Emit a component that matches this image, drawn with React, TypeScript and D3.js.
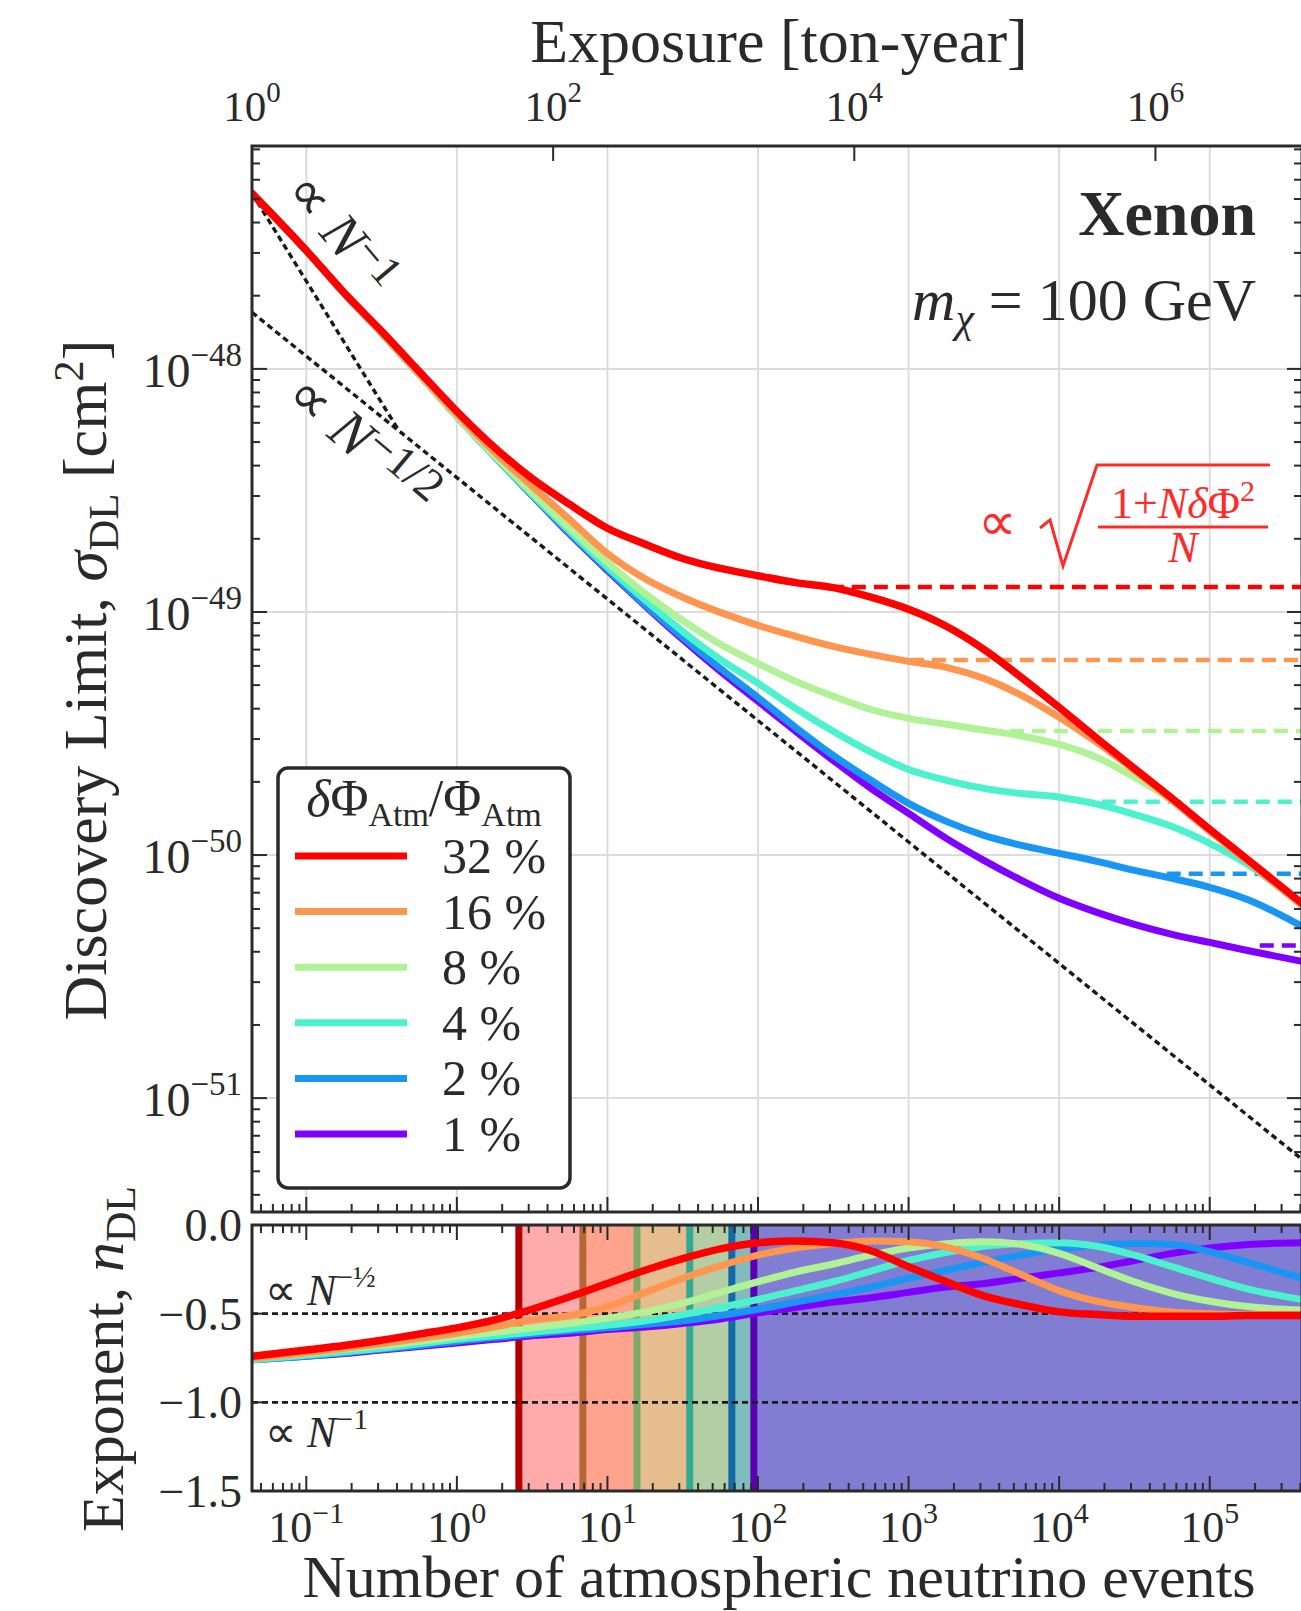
import React from "react";
import * as d3 from "d3";

// ---------------- data ----------------
// number of atmospheric neutrino events (shared grid for all series)
const nEvents = [0.0436, 0.1, 0.178, 0.316, 0.562, 1, 1.78, 3.16, 5.62, 10, 17.8, 31.6, 56.2, 100, 178, 316, 562, 1000, 1780, 3160, 5620, 1e4, 1.78e4, 3.16e4, 5.62e4, 1e5, 1.78e5, 4.1e5];

const seriesLabels = ["32 %", "16 %", "8 %", "4 %", "2 %", "1 %"];
const seriesColors = ["#ff0000", "#ff964f", "#b2f296", "#4cf2ce", "#1996f3", "#8000ff"];

// discovery limit sigma_DL in units of 1e-50 cm^2
const sigma32 = [527, 307, 206, 143, 97.7, 66.9, 47.5, 35.4, 27.7, 22.1, 19.0, 16.6, 15.1, 14.1, 13.2, 12.6, 11.5, 10.25, 8.73, 7.02, 5.38, 4.05, 3.02, 2.27, 1.71, 1.276, 0.96, 0.633];
const sigma16 = [527, 307, 206, 141.3, 95.8, 65.0, 45.4, 32.9, 24.0, 17.4, 13.7, 11.5, 9.96, 8.81, 7.94, 7.22, 6.69, 6.26, 5.92, 5.33, 4.54, 3.69, 2.91, 2.23, 1.679, 1.252, 0.942, 0.621];
const sigma8 = [527, 307, 204.4, 140.0, 94.9, 63.8, 44.1, 31.0, 22.1, 16.0, 11.9, 9.23, 7.36, 6.14, 5.18, 4.5, 3.97, 3.65, 3.45, 3.27, 3.09, 2.85, 2.52, 2.09, 1.679, 1.264, 0.951, 0.627];
const sigma4 = [527, 307, 204.4, 140.0, 94.9, 63.8, 43.7, 30.5, 21.5, 15.3, 11.2, 8.32, 6.38, 5.09, 4.01, 3.23, 2.65, 2.25, 2.03, 1.88, 1.79, 1.73, 1.62, 1.47, 1.31, 1.117, 0.916, 0.621];
const sigma2 = [527, 307, 204.4, 140.0, 94.9, 63.8, 43.7, 30.2, 21.1, 15.0, 10.7, 7.86, 5.86, 4.45, 3.35, 2.57, 2.03, 1.632, 1.376, 1.205, 1.096, 1.016, 0.942, 0.865, 0.802, 0.737, 0.657, 0.509];
const sigma1 = [527, 307, 204.4, 140.0, 94.9, 63.8, 43.7, 30.2, 20.9, 14.8, 10.6, 7.71, 5.7, 4.29, 3.23, 2.45, 1.88, 1.484, 1.171, 0.951, 0.787, 0.664, 0.581, 0.519, 0.472, 0.437, 0.405, 0.365];

// exponent n_DL = dln(sigma)/dln(N)
const exp32 = [-0.74, -0.705, -0.68, -0.65, -0.615, -0.58, -0.535, -0.475, -0.405, -0.33, -0.255, -0.19, -0.135, -0.1, -0.09, -0.1, -0.145, -0.235, -0.32, -0.4, -0.45, -0.49, -0.505, -0.515, -0.515, -0.515, -0.51, -0.51];
const exp16 = [-0.75, -0.72, -0.695, -0.67, -0.64, -0.61, -0.575, -0.535, -0.51, -0.46, -0.38, -0.3, -0.23, -0.17, -0.13, -0.105, -0.09, -0.095, -0.125, -0.19, -0.28, -0.37, -0.43, -0.465, -0.49, -0.5, -0.505, -0.505];
const exp8 = [-0.75, -0.725, -0.7, -0.68, -0.655, -0.63, -0.605, -0.58, -0.555, -0.525, -0.49, -0.44, -0.38, -0.32, -0.265, -0.22, -0.17, -0.13, -0.105, -0.095, -0.11, -0.16, -0.24, -0.32, -0.385, -0.43, -0.46, -0.48];
const exp4 = [-0.76, -0.735, -0.715, -0.695, -0.67, -0.645, -0.625, -0.605, -0.585, -0.565, -0.54, -0.505, -0.465, -0.42, -0.37, -0.32, -0.26, -0.2, -0.155, -0.12, -0.105, -0.1, -0.12, -0.17, -0.235, -0.3, -0.36, -0.42];
const exp2 = [-0.76, -0.74, -0.72, -0.7, -0.68, -0.655, -0.635, -0.615, -0.595, -0.58, -0.56, -0.54, -0.51, -0.475, -0.435, -0.395, -0.35, -0.3, -0.255, -0.21, -0.17, -0.135, -0.115, -0.105, -0.11, -0.15, -0.21, -0.3];
const exp1 = [-0.76, -0.74, -0.725, -0.705, -0.685, -0.665, -0.645, -0.625, -0.61, -0.59, -0.575, -0.555, -0.53, -0.495, -0.465, -0.435, -0.41, -0.38, -0.35, -0.33, -0.3, -0.27, -0.24, -0.2, -0.16, -0.13, -0.11, -0.1];

// asymptotic floors (dashed) : sigma (1e-50 cm^2) and N where they start
const floorSigma = [12.68, 6.35, 3.24, 1.655, 0.837, 0.424];
const floorStartN = [300, 1020, 3360, 13700, 51800, 215000];
// N where the exponent crosses -1/2 (start of shaded bands)
const crossN = [2.58, 6.87, 15.7, 35.2, 67, 93.8];

// reference power laws
const refHalfN = [0.0436, 4.1e5];
const refHalfSigma = [170.8, 0.056];
const refOneN = [0.0436, 0.41];
const refOneSigma = [527, 56];

// ticks
const mainYTicks = [0.1, 1, 10, 100];
const mainYTickExp = ["−51", "−50", "−49", "−48"];
const nTicks = [0.1, 1, 10, 100, 1e3, 1e4, 1e5];
const nTickExp = ["−1", "0", "1", "2", "3", "4", "5"];
const exposureTicks = [1, 100, 1e4, 1e6];
const exposureTickExp = ["0", "2", "4", "6"];
const lowYTicks = [0, -0.5, -1.0, -1.5];
const lowYTickLabels = ["0.0", "−0.5", "−1.0", "−1.5"];

// ---------------- layout ----------------
const W = 1301, H = 1611;
const X0 = 252, X1 = 1302;
const MT = 146, MB = 1212;
const LT = 1225, LB = 1491;
const N_MIN = 0.0436, N_MAX = 4.1e5;
const FONT = "'Liberation Serif','Times New Roman',serif";
const INK = "#2a2a2a";

function logTicks(min: number, max: number) {
  const out: { v: number; major: boolean }[] = [];
  for (let e = Math.floor(Math.log10(min)); e <= Math.ceil(Math.log10(max)); e++) {
    for (let k = 1; k <= 9; k++) {
      const v = k * Math.pow(10, e);
      if (v >= min * 0.999 && v <= max * 1.001) out.push({ v, major: k === 1 });
    }
  }
  return out;
}

export default function App() {
  const x = d3.scaleLog().domain([N_MIN, N_MAX]).range([X0, X1]);
  const xExp = d3.scaleLog().domain([1, N_MAX / N_MIN]).range([X0, X1]);
  const yMain = d3.scaleLog().domain([0.034, 826]).range([MB, MT]);
  const yLow = d3.scaleLinear().domain([-1.5, 0]).range([LB, LT]);

  const mainLine = d3
    .line<[number, number]>()
    .x((d) => x(d[0]))
    .y((d) => yMain(d[1]))
    .curve(d3.curveMonotoneX);
  const lowLine = d3
    .line<[number, number]>()
    .x((d) => x(d[0]))
    .y((d) => yLow(d[1]))
    .curve(d3.curveMonotoneX);

  const sigmaSeries = [sigma32, sigma16, sigma8, sigma4, sigma2, sigma1];
  const expSeries = [exp32, exp16, exp8, exp4, exp2, exp1];
  const drawOrder = [5, 4, 3, 2, 1, 0];

  const nT = logTicks(N_MIN, N_MAX);
  const sT = logTicks(0.034, 826);

  const darker = (c: string) => d3.interpolateRgb(c, "#000")(0.3);

  return (
    <svg
      width={W}
      height={H}
      style={{ position: "absolute", left: 0, top: 0, background: "#fff" }}
      fontFamily={FONT}
    >
      <defs>
        <clipPath id="clipMain">
          <rect x={X0} y={MT} width={X1 - X0} height={MB - MT} />
        </clipPath>
        <clipPath id="clipLow">
          <rect x={X0} y={LT} width={X1 - X0} height={LB - LT} />
        </clipPath>
      </defs>
      <rect width={W} height={H} fill="#fff" />

      {/* ---------- main panel ---------- */}
      <g clipPath="url(#clipMain)">
        {nTicks.map((v) => (
          <line key={"gx" + v} x1={x(v)} x2={x(v)} y1={MT} y2={MB} stroke="#dcdcdc" strokeWidth={2} />
        ))}
        {mainYTicks.map((v) => (
          <line key={"gy" + v} x1={X0} x2={X1} y1={yMain(v)} y2={yMain(v)} stroke="#dcdcdc" strokeWidth={2} />
        ))}
        <path
          d={mainLine(refHalfN.map((n, i) => [n, refHalfSigma[i]]) as [number, number][]) || ""}
          fill="none"
          stroke="#1a1a1a"
          strokeWidth={3.4}
          strokeDasharray="6 4"
        />
        <path
          d={mainLine(refOneN.map((n, i) => [n, refOneSigma[i]]) as [number, number][]) || ""}
          fill="none"
          stroke="#1a1a1a"
          strokeWidth={3.4}
          strokeDasharray="6 4"
        />
        {drawOrder.map((i) => (
          <line
            key={"fl" + i}
            x1={x(floorStartN[i])}
            x2={X1}
            y1={yMain(floorSigma[i])}
            y2={yMain(floorSigma[i])}
            stroke={seriesColors[i]}
            strokeWidth={4.5}
            strokeDasharray="14 8"
          />
        ))}
        {drawOrder.map((i) => (
          <path
            key={"c" + i}
            d={mainLine(nEvents.map((n, j) => [n, sigmaSeries[i][j]]) as [number, number][]) || ""}
            fill="none"
            stroke={seriesColors[i]}
            strokeWidth={i === 0 ? 7.5 : 7}
            strokeLinecap="round"
          />
        ))}
      </g>

      {/* main ticks */}
      {nT.map((t, k) => (
        <line key={"mbt" + k} x1={x(t.v)} x2={x(t.v)} y1={MB} y2={MB - (t.major ? 15 : 8)} stroke={INK} strokeWidth={2} />
      ))}
      {sT.map((t, k) => (
        <g key={"mst" + k}>
          <line x1={X0} x2={X0 + (t.major ? 15 : 8)} y1={yMain(t.v)} y2={yMain(t.v)} stroke={INK} strokeWidth={2} />
          <line x1={X1} x2={X1 - (t.major ? 15 : 8)} y1={yMain(t.v)} y2={yMain(t.v)} stroke={INK} strokeWidth={2} />
        </g>
      ))}
      {exposureTicks.map((v) => (
        <line key={"et" + v} x1={xExp(v)} x2={xExp(v)} y1={MT} y2={MT + 15} stroke={INK} strokeWidth={2} />
      ))}
      <rect x={X0} y={MT} width={X1 - X0} height={MB - MT} fill="none" stroke={INK} strokeWidth={3} />

      {/* main tick labels */}
      {mainYTicks.map((v, i) => (
        <text key={"myl" + v} x={242} y={yMain(v) + 18} textAnchor="end" fontSize={48} fill={INK}>
          10<tspan dy={-21} fontSize={33}>{mainYTickExp[i]}</tspan>
        </text>
      ))}
      {exposureTicks.map((v, i) => (
        <text key={"etl" + v} x={xExp(v)} y={121} textAnchor="middle" fontSize={43} fill={INK}>
          10<tspan dy={-19} fontSize={29}>{exposureTickExp[i]}</tspan>
        </text>
      ))}
      <text x={779} y={62} textAnchor="middle" fontSize={62} fill={INK}>
        Exposure [ton-year]
      </text>
      <text transform="translate(106,680) rotate(-90)" textAnchor="middle" fontSize={62} fill={INK}>
        Discovery Limit, <tspan fontStyle="italic">σ</tspan>
        <tspan fontSize={43} dy={12}>DL</tspan>
        <tspan dy={-12}> [cm</tspan>
        <tspan fontSize={43} dy={-23}>2</tspan>
        <tspan dy={23}>]</tspan>
      </text>

      {/* annotations */}
      <text x={1256} y={235} textAnchor="end" fontSize={64} fontWeight="bold" fill={INK}>
        Xenon
      </text>
      <text x={1256} y={320} textAnchor="end" fontSize={60} fill={INK}>
        <tspan fontStyle="italic">m</tspan>
        <tspan fontStyle="italic" fontSize={42} dy={12}>χ</tspan>
        <tspan dy={-12}> = 100 GeV</tspan>
      </text>
      <g fill="#ff2a2a" stroke="none">
        <text x={978} y={540} fontSize={54}>∝</text>
        <path d="M1040,528 L1050,520 L1063,566 L1097,465 L1270,465" fill="none" stroke="#ff2a2a" strokeWidth={3} />
        <line x1={1098} x2={1268} y1={527} y2={527} stroke="#ff2a2a" strokeWidth={3} />
        <text x={1183} y={518} textAnchor="middle" fontSize={44}>
          1+<tspan fontStyle="italic">Nδ</tspan>Φ<tspan fontSize={30} dy={-17}>2</tspan>
        </text>
        <text x={1183} y={562} textAnchor="middle" fontSize={44} fontStyle="italic">
          N
        </text>
      </g>
      <text transform="translate(283,192) rotate(50)" fontSize={56} fill={INK}>
        ∝ <tspan fontStyle="italic">N</tspan>
        <tspan fontSize={44} dy={-14}>−1</tspan>
      </text>
      <text transform="translate(283,400) rotate(40)" fontSize={57} fill={INK}>
        ∝ <tspan fontStyle="italic">N</tspan>
        <tspan fontSize={46} dy={-14}>−1/2</tspan>
      </text>

      {/* legend */}
      <g>
        <rect x={278} y={768} width={292} height={420} rx={10} fill="#fff" fillOpacity={0.92} stroke={INK} strokeWidth={3.5} />
        <text x={424} y={816} textAnchor="middle" fontSize={52} fill={INK}>
          <tspan fontStyle="italic">δ</tspan>Φ<tspan fontSize={34} dy={10}>Atm</tspan>
          <tspan dy={-10}>/Φ</tspan>
          <tspan fontSize={34} dy={10}>Atm</tspan>
        </text>
        {seriesLabels.map((lab, i) => {
          const yy = 856 + i * 55.6;
          return (
            <g key={"lg" + i}>
              <line x1={295} x2={407} y1={yy} y2={yy} stroke={seriesColors[i]} strokeWidth={7} />
              <text x={442} y={yy + 17} fontSize={50} fill={INK}>
                {lab}
              </text>
            </g>
          );
        })}
      </g>

      {/* ---------- lower panel ---------- */}
      <g clipPath="url(#clipLow)">
        {seriesColors.map((c, i) => (
          <rect key={"band" + i} x={x(crossN[i])} y={LT} width={X1 - x(crossN[i])} height={LB - LT} fill={c} fillOpacity={0.33} />
        ))}
        {seriesColors.map((c, i) => (
          <line key={"vl" + i} x1={x(crossN[i])} x2={x(crossN[i])} y1={LT} y2={LB} stroke={darker(c)} strokeWidth={7} />
        ))}
        {[-0.5, -1.0].map((v) => (
          <line key={"hd" + v} x1={X0} x2={X1} y1={yLow(v)} y2={yLow(v)} stroke="#1a1a1a" strokeWidth={2.8} strokeDasharray="6 4" />
        ))}
        {drawOrder.map((i) => (
          <path
            key={"lc" + i}
            d={lowLine(nEvents.map((n, j) => [n, expSeries[i][j]]) as [number, number][]) || ""}
            fill="none"
            stroke={seriesColors[i]}
            strokeWidth={i === 0 ? 7.5 : 7}
            strokeLinecap="round"
          />
        ))}
      </g>
      {nT.map((t, k) => (
        <g key={"lt" + k}>
          <line x1={x(t.v)} x2={x(t.v)} y1={LT} y2={LT + (t.major ? 15 : 8)} stroke={INK} strokeWidth={2} />
          <line x1={x(t.v)} x2={x(t.v)} y1={LB} y2={LB - (t.major ? 15 : 8)} stroke={INK} strokeWidth={2} />
        </g>
      ))}
      {lowYTicks.map((v) => (
        <line key={"lyt" + v} x1={X0} x2={X0 + 15} y1={yLow(v)} y2={yLow(v)} stroke={INK} strokeWidth={2} />
      ))}
      <rect x={X0} y={LT} width={X1 - X0} height={LB - LT} fill="none" stroke={INK} strokeWidth={3} />

      {lowYTicks.map((v, i) => (
        <text key={"lyl" + v} x={242} y={yLow(v) + 16} textAnchor="end" fontSize={46} fill={INK}>
          {lowYTickLabels[i]}
        </text>
      ))}
      {nTicks.map((v, i) => (
        <text key={"nxl" + v} x={x(v)} y={1542} textAnchor="middle" fontSize={44} fill={INK}>
          10<tspan dy={-19} fontSize={30}>{nTickExp[i]}</tspan>
        </text>
      ))}
      <text x={265} y={1305} fontSize={44} fill={INK}>
        ∝ <tspan fontStyle="italic">N</tspan>
        <tspan fontSize={30} dy={-18}>−½</tspan>
      </text>
      <text x={265} y={1447} fontSize={44} fill={INK}>
        ∝ <tspan fontStyle="italic">N</tspan>
        <tspan fontSize={30} dy={-18}>−1</tspan>
      </text>
      <text x={779} y={1597} textAnchor="middle" fontSize={60} fill={INK}>
        Number of atmospheric neutrino events
      </text>
      <text transform="translate(123,1359) rotate(-90)" textAnchor="middle" fontSize={60} fill={INK}>
        Exponent, <tspan fontStyle="italic">n</tspan>
        <tspan fontSize={42} dy={12}>DL</tspan>
      </text>
    </svg>
  );
}
